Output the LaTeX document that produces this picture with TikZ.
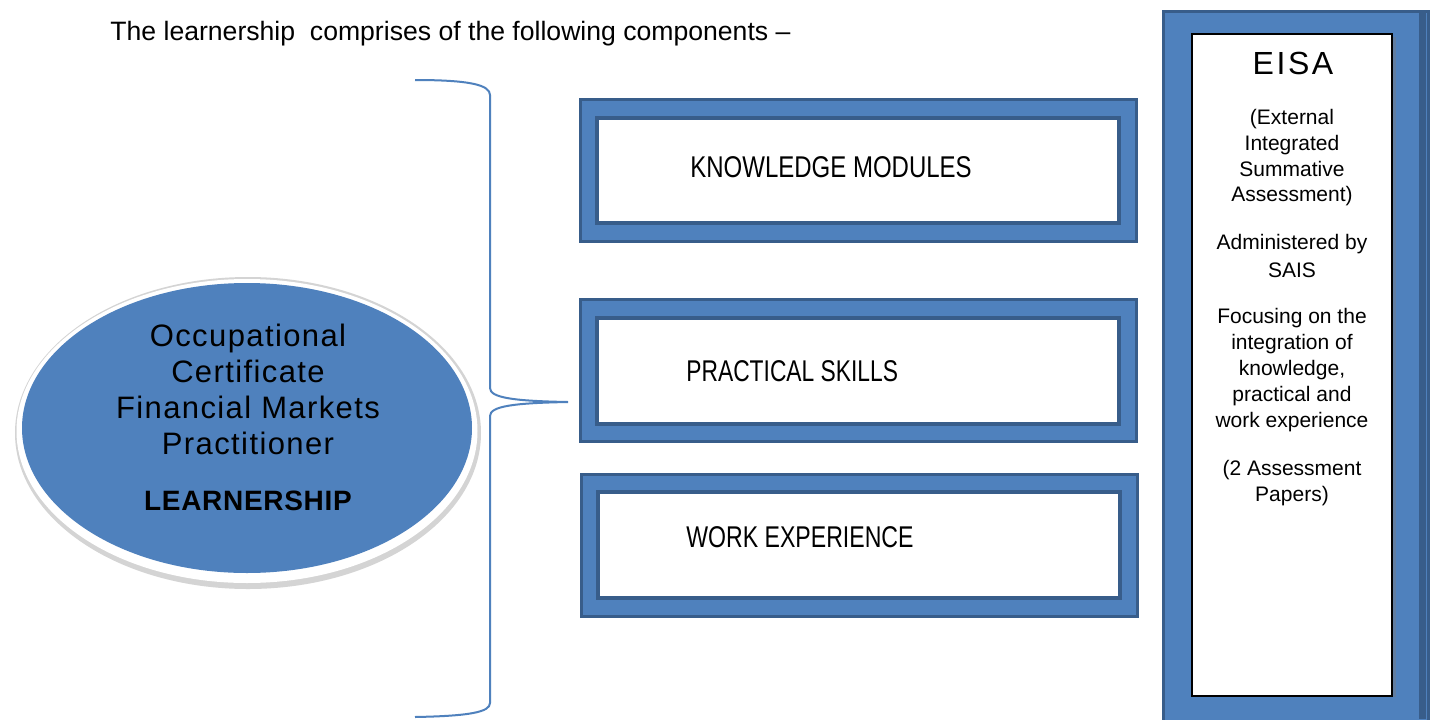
\documentclass[tikz,border=0pt]{standalone}
\usepackage{fontspec}
\setmainfont{Liberation Sans}
\usetikzlibrary{shapes.geometric}
\definecolor{bl}{HTML}{4F81BD}
\definecolor{dk}{HTML}{385D8A}
\definecolor{rim}{HTML}{D4D4D4}
\tikzset{
  outerbox/.style={draw=dk, line width=1.6pt, fill=bl, inner sep=0pt},
  innerbox/.style={draw=dk, line width=2pt, fill=white, inner sep=0pt},
  boxtext/.style={anchor=base west, inner sep=0pt, font=\fontsize{15}{18}\selectfont},
  eltext/.style={anchor=base, inner sep=0pt, font=\fontsize{15.5}{18}\selectfont\addfontfeatures{LetterSpace=4.5}},
  eisatext/.style={anchor=base, inner sep=0pt, font=\fontsize{10.5}{13}\selectfont},
  bracel/.style={draw=bl, line width=1pt}
}
\begin{document}
\begin{tikzpicture}[x=0.5pt,y=-0.5pt]
\useasboundingbox (0,0) rectangle (1432,719);
\fill[white] (0,0) rectangle (1432,719);

% header
\node[anchor=base west, inner sep=0pt, font=\fontsize{13.3}{16}\selectfont] (hdr) at (110,40) {The learnership \ comprises of the following components --};

% ellipse
\node[ellipse, fill=rim, minimum width=233pt, minimum height=156pt, inner sep=0pt] (shadow) at (248,433) {};
\node[ellipse, fill=white, minimum width=230.5pt, minimum height=152pt, inner sep=0pt] (ring) at (247,431) {};
\node[ellipse, fill=bl, minimum width=225pt, minimum height=145pt, inner sep=0pt] (oc) at (247,428) {};
\node[eltext] (t1) at (248,346) {Occupational};
\node[eltext] (t2) at (248,382) {Certificate};
\node[eltext] (t3) at (248,418) {Financial Markets};
\node[eltext] (t4) at (248,454) {Practitioner};
\node[eltext, font=\fontsize{14}{16}\selectfont\bfseries\addfontfeatures{LetterSpace=2.5}] (t5) at (248,510) {LEARNERSHIP};

% brace
\coordinate (btop) at (415,80);
\coordinate (btip) at (568,402);
\coordinate (bbot) at (415,717);
\draw[bracel] (btop) .. controls (470,80) and (490,85) .. (490,95) -- (490,388)
  .. controls (490,398) and (515,401) .. (btip)
  .. controls (515,403) and (490,406) .. (490,416) -- (490,703)
  .. controls (490,712) and (470,716) .. (bbot);

% component boxes
\node[outerbox, minimum width=278pt, minimum height=71pt] (kmo) at (858.5,170.5) {};
\node[innerbox, minimum width=261pt, minimum height=52.5pt] (kmi) at (858,170.5) {};
\node[boxtext] (km) at (690,177) {\scalebox{0.8}[1]{KNOWLEDGE MODULES}};

\node[outerbox, minimum width=278pt, minimum height=71pt] (pso) at (858.5,370.5) {};
\node[innerbox, minimum width=261pt, minimum height=53pt] (psi) at (858,370.5) {};
\node[boxtext] (ps) at (686,381) {\scalebox{0.76}[1]{PRACTICAL SKILLS}};

\node[outerbox, minimum width=278pt, minimum height=71pt] (weo) at (859.5,545.5) {};
\node[innerbox, minimum width=261pt, minimum height=53pt] (wei) at (859,545) {};
\node[boxtext] (we) at (686,547) {\scalebox{0.77}[1]{WORK EXPERIENCE}};

% EISA box
\node[outerbox, minimum width=132.5pt, minimum height=360pt, anchor=north west] (eo) at (1162,10) {};
\fill[dk] (1419,12) rectangle (1426,719);
\fill[dk!80] (1391,37) rectangle (1396,697);
\node[draw=black, line width=0.8pt, fill=white, minimum width=100pt, minimum height=331pt, anchor=north west, inner sep=0pt] (ei) at (1191,33) {};
\node[eisatext, font=\fontsize{16}{18}\selectfont\addfontfeatures{LetterSpace=8}] (e0) at (1293,74) {EISA};
\node[eisatext] (e1) at (1292,124) {(External};
\node[eisatext] (e2) at (1292,150) {Integrated};
\node[eisatext] (e3) at (1292,176) {Summative};
\node[eisatext] (e4) at (1292,201) {Assessment)};
\node[eisatext] (e5) at (1292,249) {Administered by};
\node[eisatext] (e6) at (1292,277) {SAIS};
\node[eisatext] (e7) at (1292,323) {Focusing on the};
\node[eisatext] (e8) at (1292,349) {integration of};
\node[eisatext] (e9) at (1292,375) {knowledge,};
\node[eisatext] (e10) at (1292,401) {practical and};
\node[eisatext] (e11) at (1292,427) {work experience};
\node[eisatext] (e12) at (1292,475) {(2 Assessment};
\node[eisatext] (e13) at (1292,501) {Papers)};
\end{tikzpicture}
\end{document}
